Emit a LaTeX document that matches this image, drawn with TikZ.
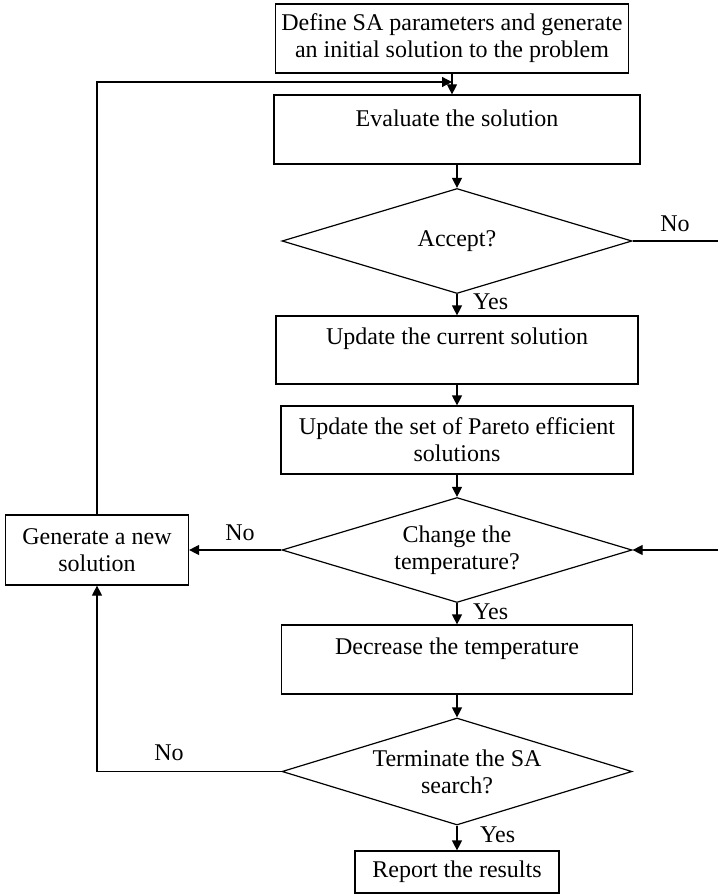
\documentclass[tikz,border=0pt]{standalone}
\usepackage{fontspec}
\setmainfont{Liberation Serif}
\usetikzlibrary{shapes.geometric,arrows.meta}
\newcommand{\upperline}[1]{\raisebox{11pt}[\height][\depth]{#1}}
\begin{document}
\begin{tikzpicture}[x=1pt,y=-1pt,
  every node/.style={font=\fontsize{24}{27}\selectfont},
  procbox/.style={draw, line width=1.2pt, rectangle, align=center, inner sep=0pt},
  decide/.style={draw, line width=1.2pt, diamond, aspect=3.33, align=center, inner sep=0pt,
                 minimum width=350pt, minimum height=105pt},
  conn/.style={line width=1.2pt},
  arr/.style={conn, -{Triangle[length=10pt,width=10pt]}},
  lbl/.style={inner sep=0pt}]
\useasboundingbox (0,0) rectangle (718,896);

% process boxes and decisions
\node[procbox, minimum width=353pt, minimum height=69pt] (init) at (452,38.5)
  {Define SA parameters and generate\\an initial solution to the problem};
\node[procbox, minimum width=366pt, minimum height=69pt] (eval) at (457,129.5)
  {\upperline{Evaluate the solution}};
\node[decide] (acc) at (457,241) {\raisebox{3pt}{Accept?}};
\node[procbox, minimum width=362pt, minimum height=68pt] (upd) at (457,350)
  {\upperline{Update the current solution}};
\node[procbox, minimum width=352pt, minimum height=68pt] (par) at (457,440)
  {Update the set of Pareto efficient\\solutions};
\node[decide] (chg) at (457,550) {Change the\\temperature?};
\node[procbox, minimum width=351pt, minimum height=69pt] (dec) at (457,659.5)
  {\upperline{Decrease the temperature}};
\node[decide, minimum height=107pt] (term) at (457,771.5) {Terminate the SA\\search?};
\node[procbox, minimum width=204pt, minimum height=42pt] (rep) at (457,872)
  {Report the results};
\node[procbox, minimum width=183pt, minimum height=70pt] (gen) at (97,550)
  {Generate a new\\solution};

% free-end coordinates
\coordinate (merge) at (452,82);
\coordinate (accOut) at (718,241);
\coordinate (chgIn) at (718,550);

% connectors
\draw[arr] (gen.north) |- (merge);
\draw[arr] (init.south) -- (init.south |- eval.north);
\draw[arr] (eval.south) -- (acc.north);
\draw[arr] (acc.south) -- (upd.north);
\draw[conn] (acc.east) -- (accOut);
\draw[arr] (upd.south) -- (par.north);
\draw[arr] (par.south) -- (chg.north);
\draw[arr] (chgIn) -- (chg.east);
\draw[arr] (chg.west) -- (gen.east);
\draw[arr] (chg.south) -- (dec.north);
\draw[arr] (dec.south) -- (term.north);
\draw[arr] (term.west) -| (gen.south);
\draw[arr] (term.south) -- (rep.north);

% labels
\node[lbl] (noAcc) at (675,224) {No};
\node[lbl, anchor=west] (yesAcc) at (473,302) {Yes};
\node[lbl] (noChg) at (240,533) {No};
\node[lbl, anchor=west] (yesChg) at (473,612) {Yes};
\node[lbl] (noTerm) at (169,753) {No};
\node[lbl, anchor=west] (yesTerm) at (480,835) {Yes};
\end{tikzpicture}
\end{document}
